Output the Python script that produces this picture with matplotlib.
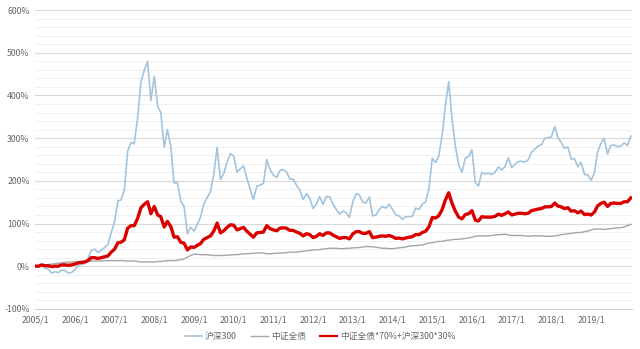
import matplotlib
matplotlib.use("Agg")
import matplotlib.pyplot as plt
from matplotlib.ticker import MultipleLocator, FuncFormatter
import pandas as pd

plt.rcParams['font.family'] = ['Noto Sans CJK SC', 'DejaVu Sans']

# Monthly points: 2005/1 start, then each month-end through 2019/12 (plotted at next month's start)
dates = pd.date_range("2005-01-01", "2020-01-01", freq="MS")

csi300 = [0,
    -2, 4, -5, -7, -16, -13, -15, -9, -10, -16, -15, -8,
    2, 4, 6, 18, 37, 40, 32, 37, 44, 51, 78, 104,
    153, 155, 178, 269, 290, 287, 347, 432, 459, 480, 388, 445,
    375, 360, 279, 320, 281, 195, 196, 152, 140, 76, 91, 82,
    99, 114, 146, 160, 175, 214, 278, 203, 217, 244, 264, 258,
    220, 228, 235, 207, 180, 156, 187, 190, 194, 250, 226, 213,
    208, 224, 226, 221, 204, 204, 190, 178, 156, 170, 159, 135,
    146, 163, 145, 163, 163, 146, 133, 122, 129, 125, 114, 152,
    170, 167, 150, 148, 162, 118, 120, 133, 140, 136, 145, 133,
    120, 118, 110, 116, 116, 117, 136, 133, 145, 151, 181, 253,
    243, 257, 305, 375, 432, 347, 282, 237, 220, 253, 257, 273,
    195, 188, 220, 216, 218, 215, 220, 233, 225, 234, 254, 231,
    239, 245, 246, 244, 249, 267, 274, 282, 284, 300, 301, 303,
    327, 302, 290, 276, 280, 251, 252, 233, 244, 215, 214, 201,
    220, 267, 287, 300, 263, 283, 284, 280, 281, 289, 283, 305]

bond = [0,
    1, 2, 3, 4, 5, 6, 7, 8, 9, 9, 10, 10,
    10, 11, 11, 11, 12, 12, 12, 12, 13, 13, 13, 13,
    13, 13, 13, 12, 12, 12, 11, 10, 10, 10, 10, 10,
    11, 11, 12, 13, 13, 13, 14, 15, 17, 21, 25, 28,
    28, 27, 27, 27, 26, 25, 25, 25, 25, 26, 26, 27,
    27, 28, 29, 29, 30, 30, 31, 31, 31, 29, 29, 30,
    30, 31, 31, 32, 33, 33, 33, 34, 35, 36, 37, 38,
    38, 39, 40, 41, 42, 42, 42, 41, 41, 42, 42, 43,
    43, 44, 45, 46, 46, 45, 45, 43, 42, 42, 41, 41,
    42, 43, 44, 45, 47, 48, 48, 49, 50, 52, 54, 55,
    57, 58, 58, 60, 61, 62, 63, 63, 64, 65, 66, 68,
    70, 71, 71, 71, 71, 72, 73, 74, 74, 75, 73, 72,
    72, 72, 72, 71, 70, 71, 71, 71, 71, 70, 70, 70,
    71, 72, 74, 75, 76, 77, 78, 79, 79, 81, 82, 85,
    87, 87, 87, 86, 87, 88, 89, 90, 90, 92, 95, 98]

blend = [0,
    0, 3, 1, 1, -1, 0, 0, 3, 3, 2, 3, 5,
    8, 9, 10, 13, 20, 20, 18, 20, 22, 24, 33, 40,
    55, 56, 62, 89, 95, 95, 112, 137, 145, 151, 123, 140,
    120, 116, 92, 105, 93, 68, 69, 56, 54, 38, 45, 44,
    49, 53, 63, 67, 71, 82, 101, 78, 83, 91, 97, 96,
    85, 88, 91, 82, 75, 68, 78, 79, 80, 95, 88, 85,
    83, 89, 90, 89, 84, 84, 80, 77, 71, 76, 74, 67,
    70, 76, 72, 78, 78, 73, 69, 65, 67, 67, 64, 76,
    81, 81, 77, 77, 81, 67, 68, 70, 71, 70, 72, 69,
    65, 66, 64, 66, 68, 69, 74, 74, 79, 82, 92, 114,
    113, 118, 132, 155, 172, 148, 129, 115, 111, 121, 123, 130,
    108, 106, 116, 115, 115, 115, 117, 122, 119, 123, 127, 120,
    122, 124, 124, 123, 124, 130, 132, 134, 135, 139, 139, 140,
    148, 141, 139, 135, 137, 129, 130, 125, 129, 121, 122, 120,
    127, 141, 147, 150, 140, 147, 148, 147, 147, 151, 151, 160]

labels = ["沪深300", "中证全债", "中证全债*70%+沪深300*30%"]
tick_years = list(range(2005, 2020))

fig = plt.figure(figsize=(6.4, 3.49), dpi=100)
ax = fig.add_axes([0.055, 0.115, 0.933, 0.856])

ax.plot(dates, csi300, color="#a3c4dc", lw=1.2, label=labels[0], zorder=3)
ax.plot(dates, bond, color="#a6a6a6", lw=1.0, label=labels[1], zorder=4)
ax.plot(dates, blend, color="#d90000", lw=2.4, label=labels[2], zorder=5)

ax.set_ylim(-100, 600)
ax.set_xlim(pd.Timestamp("2005-01-01"), pd.Timestamp("2020-01-15"))
ax.yaxis.set_major_locator(MultipleLocator(100))
ax.yaxis.set_minor_locator(MultipleLocator(20))
ax.yaxis.set_major_formatter(FuncFormatter(lambda v, p: f"{int(v)}%"))
ax.grid(axis="y", which="major", color="#d9d9d9", lw=0.8)
ax.grid(axis="y", which="minor", color="#efefef", lw=0.6)
ax.set_axisbelow(True)

ax.set_xticks([pd.Timestamp(f"{y}-01-01") for y in tick_years])
ax.set_xticklabels([f"{y}/1" for y in tick_years])

for s in ["top", "right", "left"]:
    ax.spines[s].set_visible(False)
ax.spines["bottom"].set_color("#d0d0d0")
ax.tick_params(axis="both", which="both", length=0, labelsize=6.3, colors="#666666")
ax.tick_params(axis="x", pad=5)
ax.tick_params(axis="y", pad=4)

leg = fig.legend(loc="lower center", bbox_to_anchor=(0.5, 0.0), ncol=3, frameon=False,
                 fontsize=6.3, handlelength=2.0, handletextpad=0.3, columnspacing=1.6,
                 labelcolor="#666666")
leg.get_lines()[2].set_linewidth(1.6)

fig.savefig("out.png", dpi=100, facecolor="white")
